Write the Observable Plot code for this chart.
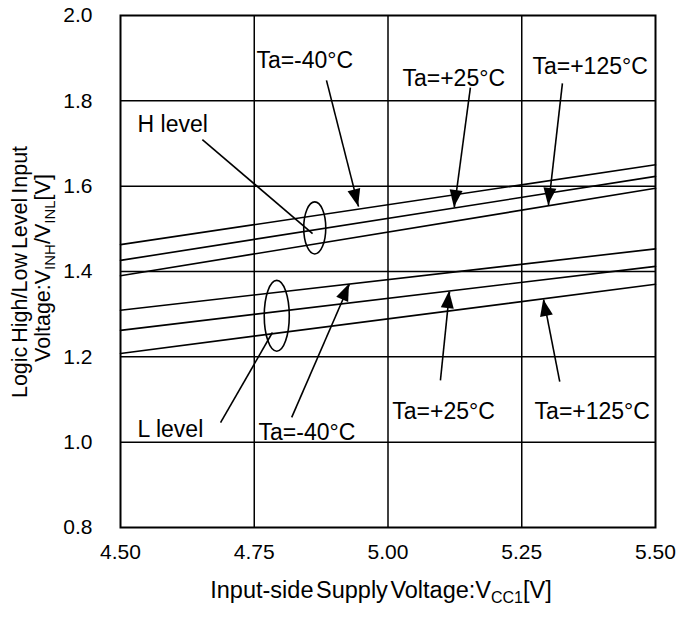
<!DOCTYPE html>
<html>
<head>
<meta charset="utf-8">
<script src="https://cdn.jsdelivr.net/npm/d3@7"></script>
<script src="https://cdn.jsdelivr.net/npm/@observablehq/plot@0.6"></script>
<style>
  html, body { margin: 0; padding: 0; background: #fff; }
  svg text { font-family: "Liberation Sans", Arial, sans-serif; }
</style>
</head>
<body>
<div id="chart"></div>
<script>
// ---- data ----
const vcc = [4.5, 5.5];
const hLevelM40 = [1.463, 1.650];
const hLevel25 = [1.426, 1.623];
const hLevel125 = [1.390, 1.595];
const lLevelM40 = [1.309, 1.453];
const lLevel25 = [1.262, 1.412];
const lLevel125 = [1.208, 1.370];

const xTicks = [4.5, 4.75, 5.0, 5.25, 5.5];
const yTicks = [0.8, 1.0, 1.2, 1.4, 1.6, 1.8, 2.0];
const xGrid = [4.75, 5.0, 5.25];
const yGrid = [1.0, 1.2, 1.4, 1.6, 1.8];

// annotation texts
const labelText = ["Ta=-40°C", "Ta=+25°C", "Ta=+125°C", "H level", "L level", "Ta=-40°C", "Ta=+25°C", "Ta=+125°C"];
const labelX = [4.754, 5.027, 5.270, 4.532, 4.532, 4.758, 5.008, 5.274];
const labelY = [1.878, 1.834, 1.864, 1.726, 1.011, 1.004, 1.055, 1.055];

// arrows (tail -> tip)
const arrowX1 = [4.885, 5.154, 5.326, 4.820, 5.098, 5.321];
const arrowY1 = [1.848, 1.831, 1.841, 1.058, 1.145, 1.142];
const arrowX2 = [4.945, 5.124, 5.300, 4.928, 5.115, 5.291];
const arrowY2 = [1.552, 1.550, 1.555, 1.370, 1.353, 1.334];

// leader lines for H / L level
const leaderX1 = [4.653, 4.784];
const leaderY1 = [1.709, 1.257];
const leaderX2 = [4.859, 4.687];
const leaderY2 = [1.489, 1.046];

// ellipses (center, radii in data units)
const ellCx = [4.864, 4.793];
const ellCy = [1.501, 1.295];
const ellRx = [0.0206, 0.0234];
const ellRy = [0.061, 0.083];

// ---- build tables ----
const series = [
  {key: "H -40", values: hLevelM40},
  {key: "H 25", values: hLevel25},
  {key: "H 125", values: hLevel125},
  {key: "L -40", values: lLevelM40},
  {key: "L 25", values: lLevel25},
  {key: "L 125", values: lLevel125}
];
const rows = series.flatMap(s => s.values.map((v, i) => ({key: s.key, x: vcc[i], y: v})));
const labels = labelText.map((t, i) => ({text: t, x: labelX[i], y: labelY[i]}));
const arrows = arrowX1.map((_, i) => ({x1: arrowX1[i], y1: arrowY1[i], x2: arrowX2[i], y2: arrowY2[i]}));
const leaders = leaderX1.map((_, i) => ({x1: leaderX1[i], y1: leaderY1[i], x2: leaderX2[i], y2: leaderY2[i]}));

const plot = Plot.plot({
  width: 680,
  height: 619,
  marginLeft: 120,
  marginRight: 25,
  marginTop: 15,
  marginBottom: 92,
  style: {fontFamily: "Liberation Sans, Arial, sans-serif", fontSize: "21px", color: "black", background: "white"},
  x: {domain: [4.5, 5.5], ticks: xTicks, tickFormat: d3.format(".2f"), tickSize: 0, tickPadding: 17, label: null},
  y: {domain: [0.8, 2.0], ticks: yTicks, tickFormat: d3.format(".1f"), tickSize: 0, tickPadding: 28, label: null},
  marks: [
    Plot.ruleX(xGrid, {stroke: "black", strokeWidth: 1.5}),
    Plot.ruleY(yGrid, {stroke: "black", strokeWidth: 1.5}),
    Plot.line(rows, {x: "x", y: "y", z: "key", stroke: "black", strokeWidth: 1.6}),
    Plot.link(leaders, {x1: "x1", y1: "y1", x2: "x2", y2: "y2", stroke: "black", strokeWidth: 1.6}),
    Plot.link(arrows, {x1: "x1", y1: "y1", x2: "x2", y2: "y2", stroke: "black", strokeWidth: 1.6}),
    Plot.text(labels, {x: "x", y: "y", text: "text", textAnchor: "start", lineAnchor: "bottom", fontSize: 23, fill: "black"}),
    Plot.frame({stroke: "black", strokeWidth: 2})
  ]
});

const svg = d3.select(plot);
const sx = plot.scale("x"), sy = plot.scale("y");

// ellipses
ellCx.forEach((cx, i) => {
  const px = sx.apply(cx), py = sy.apply(ellCy[i]);
  const rx = sx.apply(cx + ellRx[i]) - px;
  const ry = py - sy.apply(ellCy[i] + ellRy[i]);
  svg.append("ellipse").attr("cx", px).attr("cy", py).attr("rx", rx).attr("ry", ry)
    .attr("fill", "none").attr("stroke", "black").attr("stroke-width", 1.6);
});

// filled arrowheads
arrows.forEach(a => {
  const x1 = sx.apply(a.x1), y1 = sy.apply(a.y1), x2 = sx.apply(a.x2), y2 = sy.apply(a.y2);
  const dx = x2 - x1, dy = y2 - y1, len = Math.hypot(dx, dy);
  const ux = dx / len, uy = dy / len, nx = -uy, ny = ux;
  const L = 17, Wd = 6.5;
  const bx = x2 - ux * L, by = y2 - uy * L;
  svg.append("path")
    .attr("d", `M${x2},${y2}L${bx + nx * Wd},${by + ny * Wd}L${bx - nx * Wd},${by - ny * Wd}Z`)
    .attr("fill", "black");
});

// y-axis title (two lines)
svg.append("text")
  .attr("transform", "translate(27,272) rotate(-90)")
  .attr("text-anchor", "middle").attr("font-size", 21.5).attr("word-spacing", -2).attr("fill", "black")
  .text("Logic High/Low Level Input");
const yt2 = svg.append("text")
  .attr("transform", "translate(50,268) rotate(-90)")
  .attr("text-anchor", "middle").attr("font-size", 21.5).attr("fill", "black");
yt2.append("tspan").text("Voltage:V");
yt2.append("tspan").attr("font-size", 15).attr("dy", 5).text("INH");
yt2.append("tspan").attr("dy", -5).text("/V");
yt2.append("tspan").attr("font-size", 15).attr("dy", 5).text("INL");
yt2.append("tspan").attr("dy", -5).text("[V]");

// x-axis title
const xt = svg.append("text")
  .attr("transform", "translate(381,598)")
  .attr("text-anchor", "middle").attr("font-size", 23.5).attr("word-spacing", -4).attr("fill", "black");
xt.append("tspan").text("Input-side Supply Voltage:V");
xt.append("tspan").attr("font-size", 16).attr("dy", 5).text("CC1");
xt.append("tspan").attr("dy", -5).text("[V]");

document.getElementById("chart").appendChild(plot);
</script>
</body>
</html>
